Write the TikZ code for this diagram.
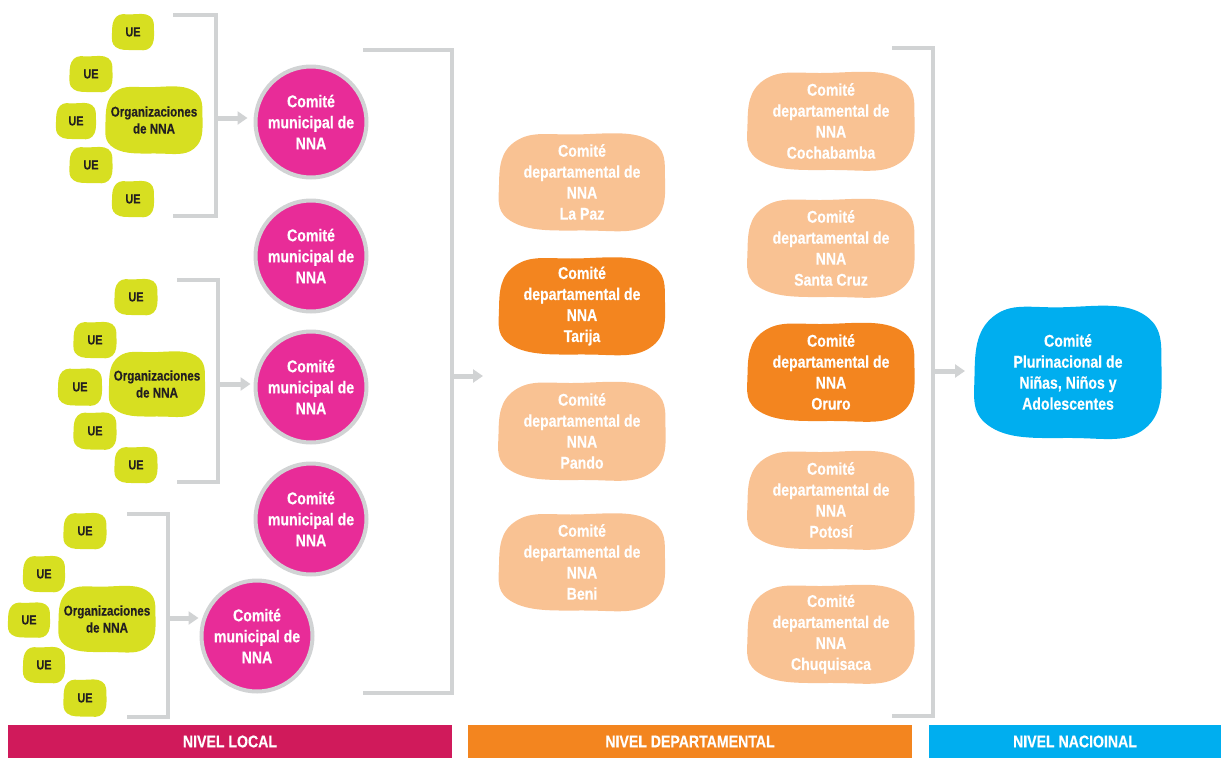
\documentclass[tikz,border=0pt]{standalone}
\usepackage{fontspec}
\setmainfont[FakeStretch=0.83, BoldFeatures={FakeBold=0.4}]{Liberation Sans}
\usetikzlibrary{arrows.meta}
\definecolor{magentac}{HTML}{E82C98}
\definecolor{limec}{HTML}{D7DF21}
\definecolor{peachc}{HTML}{F9C293}
\definecolor{orangec}{HTML}{F3851F}
\definecolor{crimsonc}{HTML}{D01A5B}
\definecolor{cyanc}{HTML}{00AEEF}
\definecolor{linegray}{HTML}{D1D3D4}
\definecolor{darktext}{HTML}{231F20}
% x y w h colour
\newcommand{\blobfill}[5]{%
  \fill[#5] plot[smooth cycle, tension=0.75] coordinates {
    ({#1-0.50*#3},{#2+0.03*#4})
    ({#1-0.40*#3},{#2-0.42*#4})
    ({#1-0.04*#3},{#2-0.49*#4})
    ({#1+0.40*#3},{#2-0.44*#4})
    ({#1+0.50*#3},{#2-0.03*#4})
    ({#1+0.41*#3},{#2+0.43*#4})
    ({#1+0.03*#3},{#2+0.50*#4})
    ({#1-0.41*#3},{#2+0.42*#4})
  };}
% name x y w h colour style
\newcommand{\blobnode}[7]{\blobfill{#2}{#3}{#4}{#5}{#6}\node[#7] (#1) at (#2,#3)}
\begin{document}
\begin{tikzpicture}[x=1pt,y=-1pt,
  ctext/.style={text=white, font=\fontsize{17}{21}\selectfont\bfseries, align=center, inner sep=0pt},
  uetext/.style={text=darktext, font=\fontsize{13}{15}\selectfont\bfseries, inner sep=0pt},
  orgtext/.style={text=darktext, font=\fontsize{14}{17}\selectfont\bfseries, align=center, inner sep=0pt},
  muni/.style={circle, fill=magentac, draw=linegray, line width=4pt, minimum size=111pt, ctext},
  bracket/.style={draw=linegray, line width=4pt, line join=miter},
  conn/.style={draw=linegray, line width=5pt, -{Triangle[length=10pt,width=13pt]}},
  barlabel/.style={text=white, font=\fontsize{17}{20}\selectfont\bfseries, inner sep=0pt, minimum height=33pt}
]
\useasboundingbox (0,0) rectangle (1221,758);

% ---------- cluster 1 ----------
\blobnode{u11}{133}{32}{42}{36}{limec}{uetext}{UE};
\blobnode{u12}{91}{74}{43}{36}{limec}{uetext}{UE};
\blobnode{u13}{76}{121}{40}{36}{limec}{uetext}{UE};
\blobnode{u14}{91}{165}{43}{36}{limec}{uetext}{UE};
\blobnode{u15}{133}{199}{42}{36}{limec}{uetext}{UE};
\blobnode{org1}{154}{120}{97}{67}{limec}{orgtext}{Organizaciones\\de NNA};
\draw[bracket] (173,15) -- (216,15) -- (216,216) -- (173,216);
\coordinate (b1) at (216,118);

% ---------- cluster 2 ----------
\blobnode{u21}{136}{297}{43}{36}{limec}{uetext}{UE};
\blobnode{u22}{95}{340}{43}{36}{limec}{uetext}{UE};
\blobnode{u23}{80}{387}{44}{37}{limec}{uetext}{UE};
\blobnode{u24}{95}{431}{43}{37}{limec}{uetext}{UE};
\blobnode{u25}{136}{465}{43}{36}{limec}{uetext}{UE};
\blobnode{org2}{157}{384}{96}{65}{limec}{orgtext}{Organizaciones\\de NNA};
\draw[bracket] (177,280) -- (218,280) -- (218,482) -- (177,482);
\coordinate (b2) at (218,384);

% ---------- cluster 3 ----------
\blobnode{u31}{85}{531}{43}{36}{limec}{uetext}{UE};
\blobnode{u32}{44}{574}{42}{36}{limec}{uetext}{UE};
\blobnode{u33}{29}{620}{42}{35}{limec}{uetext}{UE};
\blobnode{u34}{44}{665}{42}{36}{limec}{uetext}{UE};
\blobnode{u35}{85}{698}{43}{37}{limec}{uetext}{UE};
\blobnode{org3}{107}{619}{97}{66}{limec}{orgtext}{Organizaciones\\de NNA};
\draw[bracket] (127,514) -- (168,514) -- (168,717) -- (127,717);
\coordinate (b3) at (168,618);

% ---------- municipal committees ----------
\node[muni] (c1) at (311,122) {Comité\\municipal de\\NNA};
\node[muni] (c2) at (311,256) {Comité\\municipal de\\NNA};
\node[muni] (c3) at (311,387) {Comité\\municipal de\\NNA};
\node[muni] (c4) at (311,519) {Comité\\municipal de\\NNA};
\node[muni] (c5) at (257,636) {Comité\\municipal de\\NNA};

\draw[conn, shorten >=6pt] (b1) -- (b1 -| c1.west);
\draw[conn, shorten >=3pt] (b2) -- (b2 -| c3.west);
\draw[conn, shorten >=1pt] (b3) -- (b3 -| c5.west);

\draw[bracket] (363,50) -- (452,50) -- (452,693) -- (363,693);
\coordinate (m1) at (452,376);
\coordinate (m2) at (483,376);
\draw[conn] (m1) -- (m2);

% ---------- departmental committees ----------
\blobnode{lapaz}{582}{182}{166}{97}{peachc}{ctext}{Comité\\departamental de\\NNA\\La Paz};
\blobnode{tarija}{582}{306}{166}{97}{orangec}{ctext}{Comité\\departamental de\\NNA\\Tarija};
\blobnode{pando}{582}{431}{167}{98}{peachc}{ctext}{Comité\\departamental de\\NNA\\Pando};
\blobnode{beni}{582}{562}{166}{97}{peachc}{ctext}{Comité\\departamental de\\NNA\\Beni};
\blobnode{cocha}{831}{121}{167}{98}{peachc}{ctext}{Comité\\departamental de\\NNA\\Cochabamba};
\blobnode{scruz}{831}{248}{167}{98}{peachc}{ctext}{Comité\\departamental de\\NNA\\Santa Cruz};
\blobnode{oruro}{831}{372}{167}{98}{orangec}{ctext}{Comité\\departamental de\\NNA\\Oruro};
\blobnode{potosi}{831}{500}{167}{98}{peachc}{ctext}{Comité\\departamental de\\NNA\\Potosí};
\blobnode{chuqui}{831}{634}{167}{98}{peachc}{ctext}{Comité\\departamental de\\NNA\\Chuquisaca};

\draw[bracket] (892,48) -- (933,48) -- (933,716) -- (892,716);
\coordinate (r1) at (933,371);
\coordinate (r2) at (965,371);

% ---------- national committee ----------
\blobnode{nat}{1068}{372}{187}{132}{cyanc}{ctext}{Comité\\Plurinacional de\\Niñas, Niños y\\Adolescentes};
\draw[conn] (r1) -- (r2);

% ---------- level bars ----------
\node[barlabel, fill=crimsonc, minimum width=444pt] (nlocal) at (230,741.5) {NIVEL LOCAL};
\node[barlabel, fill=orangec, minimum width=444pt] (ndep) at (690,741.5) {NIVEL DEPARTAMENTAL};
\node[barlabel, fill=cyanc, minimum width=292pt] (nnac) at (1075,741.5) {NIVEL NACIOINAL};
\end{tikzpicture}
\end{document}
